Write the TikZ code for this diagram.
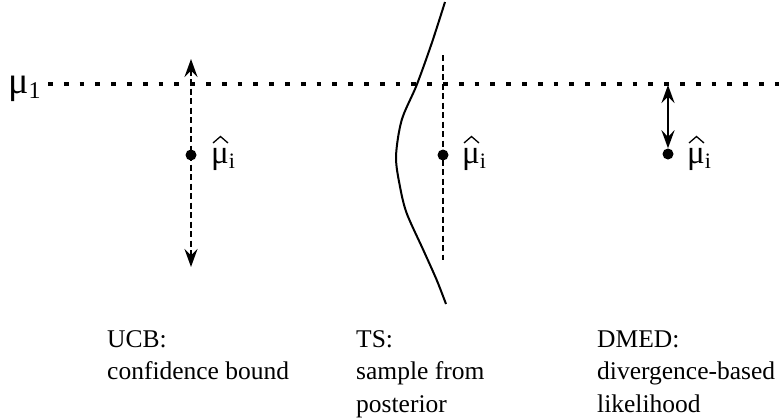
\documentclass[tikz,border=0pt]{standalone}
\usepackage{fontspec}
\usepackage{graphicx}
\setmainfont{Liberation Serif}
\usetikzlibrary{arrows.meta}
\tikzset{
  dotnode/.style={circle, fill=black, inner sep=0pt, minimum size=11pt},
  mulabel/.style={anchor=base west, inner sep=0pt, font=\fontsize{33}{33}\selectfont},
  mainlabel/.style={anchor=base west, inner sep=0pt, font=\fontsize{38}{38}\selectfont},
  caption/.style={anchor=base west, inner sep=0pt, align=left, font=\fontsize{25.5}{32.5}\selectfont},
  dashedline/.style={line width=2pt, dash pattern=on 6pt off 3.5pt},
  meanline/.style={line width=4.8pt, dash pattern=on 4.8pt off 11pt},
  hatline/.style={line width=1.3pt, line join=miter},
  bothtips/.style={{Stealth[length=18pt,width=13pt,inset=6.5pt]}-{Stealth[length=18pt,width=13pt,inset=6.5pt]}},
}
\newcommand\subs[2]{\raisebox{-5pt}{\fontsize{#1}{#1}\selectfont #2}}
\begin{document}
\begin{tikzpicture}[x=1pt,y=-1pt]
\useasboundingbox (0,0) rectangle (779,418);
% mean line
\node[mainlabel] (mu1) at (8,93) {μ\subs{24}{1}};
\coordinate (mL) at (48,84);
\coordinate (mR) at (779,84);
\draw[meanline] (mL) -- (mR);
% UCB
\node[dotnode] (ucbdot) at (191,155) {};
\coordinate (ucbtop) at (191,59);
\coordinate (ucbbot) at (191,267);
\draw[dashedline, bothtips] (ucbtop) -- (ucbbot);
\node[mulabel] (ucbmu) at (211,163) {μ\subs{22}{i}};
\draw[hatline] ([shift={(2,-20)}]ucbmu.base west) -- ++(7.5,-6.5) -- ++(7.5,6.5);
% TS
\draw[line width=2pt] plot[smooth] coordinates {(445,2) (431.7,43.3) (416.7,85) (401.7,120) (396,156.7) (400,186.7) (406.7,213.3) (423.3,250) (436.7,280) (446,304)};
\coordinate (tstop) at (443,55);
\coordinate (tsbot) at (443,260);
\draw[dashedline] (tstop) -- (tsbot);
\node[dotnode] (tsdot) at (443,155) {};
\node[mulabel] (tsmu) at (462,163) {μ\subs{22}{i}};
\draw[hatline] ([shift={(2,-20)}]tsmu.base west) -- ++(7.5,-6.5) -- ++(7.5,6.5);
% DMED
\node[dotnode] (dmeddot) at (668,154) {};
\coordinate (dmedtop) at (668,85);
\draw[line width=2.5pt, bothtips] (dmedtop) -- (dmeddot.north);
\node[mulabel] (dmedmu) at (687,163) {μ\subs{22}{i}};
\draw[hatline] ([shift={(2,-20)}]dmedmu.base west) -- ++(7.5,-6.5) -- ++(7.5,6.5);
% captions (base = last line)
\node[caption] (ucbtxt) at (107,379.5) {UCB:\\confidence bound};
\node[caption] (tstxt) at (356,412) {TS:\\sample from\\posterior};
\node[caption] (dmedtxt) at (597,412) {DMED:\\divergence-based\\likelihood};
\end{tikzpicture}
\end{document}
